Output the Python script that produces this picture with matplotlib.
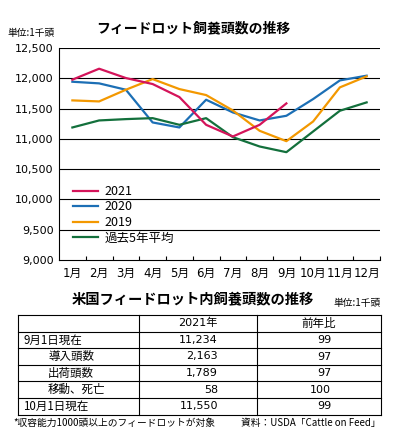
import numpy as np
import matplotlib
matplotlib.use("Agg")
import matplotlib.pyplot as plt

plt.rcParams['font.family'] = ['DejaVu Sans', 'Noto Sans CJK JP']
JP = ['Noto Sans CJK JP', 'DejaVu Sans']

# chart data (1,000 head)
months = ['1月', '2月', '3月', '4月', '5月', '6月', '7月', '8月', '9月', '10月', '11月', '12月']
y2021 = [11977, 12158, 12004, 11905, 11690, 11232, 11039, 11232, 11585]
y2020 = [11943, 11916, 11811, 11271, 11188, 11646, 11436, 11304, 11381, 11657, 11965, 12043]
y2019 = [11635, 11618, 11811, 11987, 11822, 11723, 11469, 11133, 10962, 11287, 11850, 12031]
avg5 = [11188, 11304, 11326, 11342, 11232, 11342, 11028, 10874, 10780, 11122, 11464, 11602]

# table data
row_labels = ['9月1日現在', '導入頭数', '出荷頭数', '移動、死亡', '10月1日現在']
vals_2021 = ['11,234', '2,163', '1,789', '58', '11,550']
vals_yoy = ['99', '97', '97', '100', '99']
indent = [False, True, True, True, False]

W, H = 398, 433
fig = plt.figure(figsize=(W / 100, H / 100), dpi=100)

ax = fig.add_axes([59 / W, 1 - 260 / H, (380 - 59) / W, (260 - 48) / H])
x = np.arange(1, 13)
ax.plot(x[:len(y2021)], y2021, color='#d4145a', lw=1.6, label='2021', zorder=4)
ax.plot(x, y2020, color='#1c6fb5', lw=1.6, label='2020', zorder=3)
ax.plot(x, y2019, color='#f39800', lw=1.6, label='2019', zorder=3)
ax.plot(x, avg5, color='#13703c', lw=1.6, label='過去5年平均', zorder=3)

ax.set_xlim(0.5, 12.5)
ax.set_ylim(9000, 12500)
ax.set_yticks(np.arange(9000, 12501, 500))
ax.set_yticklabels([f'{v:,}' for v in range(9000, 12501, 500)], fontsize=8)
for v in range(9500, 12501, 500):
    ax.axhline(v, color='black', lw=0.8, zorder=1)
ax.set_xticks(x)
ax.set_xticklabels(months, fontsize=8.5)
ax.set_xticks(np.arange(1.5, 12.6, 1), minor=True)
ax.tick_params(axis='x', which='major', length=0, pad=5)
ax.tick_params(axis='x', which='minor', direction='in', length=3, width=0.8)
ax.tick_params(axis='y', length=0, pad=4)
for s in ['top', 'right']:
    ax.spines[s].set_visible(False)
for s in ['left', 'bottom']:
    ax.spines[s].set_linewidth(0.8)

leg = ax.legend(loc='upper left', bbox_to_anchor=(14 / 321, (260 - 185) / 212), frameon=False,
                prop={'family': JP, 'size': 9}, handlelength=2.0, labelspacing=0.2,
                handletextpad=0.5, borderaxespad=0, borderpad=0)

fig.text(193 / W, 1 - 28 / H, 'フィードロット飼養頭数の推移', ha='center', va='center',
         fontsize=10, fontweight='bold', family=JP)
fig.text(7 / W, 1 - 33 / H, '単位:1千頭', ha='left', va='center', fontsize=7, family=JP)

# table drawn in pixel coordinates
tx = fig.add_axes([0, 0, 1, 1])
tx.set_xlim(0, W)
tx.set_ylim(H, 0)
tx.axis('off')

tx.text(193, 300, '米国フィードロット内飼養頭数の推移', ha='center', va='center',
        fontsize=10.3, fontweight='bold', family=JP)
tx.text(381, 303, '単位:1千頭', ha='right', va='center', fontsize=7, family=JP)

left, c1, c2, right = 18, 139, 257, 381
top, rh = 315, 16.6
nrows = len(row_labels) + 1
bottom = top + rh * nrows
for i in range(nrows + 1):
    tx.plot([left, right], [top + i * rh] * 2, color='black', lw=0.8)
for xx in [left, c1, c2, right]:
    tx.plot([xx, xx], [top, bottom], color='black', lw=0.8)

tx.text((c1 + c2) / 2, top + rh / 2, '2021年', ha='center', va='center', fontsize=8)
tx.text((c2 + right) / 2, top + rh / 2, '前年比', ha='center', va='center', fontsize=8.3, family=JP)
for i, lab in enumerate(row_labels):
    yy = top + rh * (i + 1.5)
    tx.text(left + (30 if indent[i] else 5), yy, lab, ha='left', va='center', fontsize=8.3, family=JP)
    tx.text(218, yy, vals_2021[i], ha='right', va='center', fontsize=8)
    tx.text(331, yy, vals_yoy[i], ha='right', va='center', fontsize=8)

tx.text(13, 423, '*収容能力1000頭以上のフィードロットが対象', ha='left', va='center', fontsize=7, family=JP)
tx.text(381, 423, '資料：USDA「Cattle on Feed」', ha='right', va='center', fontsize=7, family=JP)

fig.savefig('out.png', dpi=100)
